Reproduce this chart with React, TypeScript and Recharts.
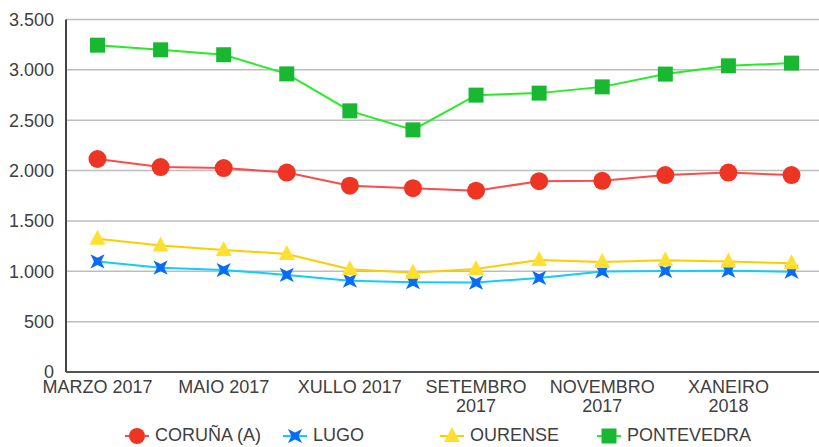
import React from "react";
import { LineChart, Line, XAxis, YAxis, CartesianGrid } from "recharts";

const months = [
  "MARZO 2017", "ABRIL 2017", "MAIO 2017", "XUÑO 2017", "XULLO 2017", "AGOSTO 2017",
  "SETEMBRO 2017", "OUTUBRO 2017", "NOVEMBRO 2017", "DECEMBRO 2017", "XANEIRO 2018", "FEBREIRO 2018",
];
const coruna = [2115, 2035, 2025, 1980, 1850, 1825, 1800, 1895, 1898, 1955, 1980, 1955];
const lugo = [1098, 1036, 1013, 964, 907, 891, 888, 934, 998, 1003, 1006, 996];
const ourense = [1322, 1255, 1212, 1172, 1020, 985, 1023, 1113, 1093, 1110, 1096, 1080];
const pontevedra = [3245, 3199, 3150, 2960, 2593, 2404, 2749, 2769, 2831, 2958, 3040, 3067];
const yTicks = [0, 500, 1000, 1500, 2000, 2500, 3000, 3500];

const data = months.map((m, i) => ({
  month: m,
  coruna: coruna[i],
  lugo: lugo[i],
  ourense: ourense[i],
  pontevedra: pontevedra[i],
}));

const FONT = "'Liberation Sans', Arial, sans-serif";
const TEXT = "#404040";
const RED = "#ee3524";
const RED_LINE = "#ff4a4a";
const BLUE = "#0a6cf5";
const BLUE_LINE = "#11ccff";
const YELLOW = "#ffe030";
const YELLOW_LINE = "#ffcc00";
const GREEN = "#19b832";
const GREEN_LINE = "#22ee22";

const fmt = (v: number) => v.toString().replace(/\B(?=(\d{3})+(?!\d))/g, ".");

const starPath = (cx: number, cy: number, R: number, r: number) => {
  const pts: string[] = [];
  for (let i = 0; i < 8; i++) {
    const a = (Math.PI / 4) * i - Math.PI / 4;
    const rad = i % 2 === 0 ? R : r;
    pts.push(`${cx + rad * Math.cos(a)},${cy + rad * Math.sin(a)}`);
  }
  return "M" + pts.join("L") + "Z";
};

const Square = (props: any) => {
  const { cx, cy, index } = props;
  return <rect key={index} x={cx - 7.5} y={cy - 7.5} width={15} height={15} fill={GREEN} />;
};
const Circle = (props: any) => {
  const { cx, cy, index } = props;
  return <circle key={index} cx={cx} cy={cy} r={9} fill={RED} />;
};
const Triangle = (props: any) => {
  const { cx, cy, index } = props;
  return (
    <path
      key={index}
      d={`M${cx},${cy - 9}L${cx + 8},${cy + 6}L${cx - 8},${cy + 6}Z`}
      fill={YELLOW}
    />
  );
};
const Star = (props: any) => {
  const { cx, cy, index } = props;
  return <path key={index} d={starPath(cx, cy, 10, 3.6)} fill={BLUE} />;
};

const XTick = (props: any) => {
  const { x, y, payload } = props;
  const s: string = payload.value;
  const lines = s.length > 10 ? s.split(" ") : [s];
  return (
    <g>
      {lines.map((l, i) => (
        <text
          key={i}
          x={x}
          y={y + 13 + i * 18.5}
          textAnchor="middle"
          fontSize={18}
          fontFamily={FONT}
          fill={TEXT}
        >
          {l}
        </text>
      ))}
    </g>
  );
};

const legendItems = [
  { label: "CORUÑA (A)", x: 137, line: RED_LINE, kind: "circle" },
  { label: "LUGO", x: 295, line: BLUE_LINE, kind: "star" },
  { label: "OURENSE", x: 452, line: YELLOW_LINE, kind: "triangle" },
  { label: "PONTEVEDRA", x: 609, line: GREEN_LINE, kind: "square" },
];

const LegendIcon = ({ kind }: { kind: string }) => {
  const c = 12;
  const cy = 12;
  let m: React.ReactNode = null;
  if (kind === "circle") m = <circle cx={c} cy={cy} r={8} fill={RED} />;
  if (kind === "star") m = <path d={starPath(c, cy, 10, 3.6)} fill={BLUE} />;
  if (kind === "triangle")
    m = <path d={`M${c},${cy - 9}L${c + 8},${cy + 6}L${c - 8},${cy + 6}Z`} fill={YELLOW} />;
  if (kind === "square") m = <rect x={c - 7.5} y={cy - 7.5} width={15} height={15} fill={GREEN} />;
  return m;
};

export default function App() {
  return (
    <div
      style={{
        position: "fixed",
        left: 0,
        top: 0,
        width: 819,
        height: 447,
        overflow: "hidden",
        background: "#fff",
      }}
    >
      <LineChart
        width={826}
        height={447}
        data={data}
        margin={{ top: 19.5, right: 3, bottom: 30, left: 0 }}
      >
        <CartesianGrid vertical={false} stroke="#bdbdbd" strokeWidth={1.5} />
        <XAxis
          dataKey="month"
          interval={1}
          tickLine={false}
          axisLine={{ stroke: "#555", strokeWidth: 2 }}
          tick={<XTick />}
          height={45}
          padding={{ left: 31.5, right: 31.5 }}
        />
        <YAxis
          domain={[0, 3500]}
          ticks={yTicks}
          width={66}
          tickLine={false}
          axisLine={{ stroke: "#444", strokeWidth: 2 }}
          tickFormatter={fmt}
          tick={{ fontSize: 18, fontFamily: FONT, fill: TEXT }}
          tickMargin={6}
        />
        <Line dataKey="coruna" stroke={RED_LINE} strokeWidth={2} dot={<Circle />} isAnimationActive={false} />
        <Line dataKey="lugo" stroke={BLUE_LINE} strokeWidth={2} dot={<Star />} isAnimationActive={false} />
        <Line dataKey="ourense" stroke={YELLOW_LINE} strokeWidth={2} dot={<Triangle />} isAnimationActive={false} />
        <Line dataKey="pontevedra" stroke={GREEN_LINE} strokeWidth={2} dot={<Square />} isAnimationActive={false} />
      </LineChart>
      {legendItems.map((it) => (
        <div
          key={it.label}
          style={{
            position: "absolute",
            left: it.x - 12,
            top: 423.5,
            height: 24,
            display: "flex",
            alignItems: "center",
            fontFamily: FONT,
            fontSize: 18,
            color: TEXT,
            whiteSpace: "nowrap",
          }}
        >
          <svg width={24} height={24} style={{ display: "block" }}>
            <line x1={0} y1={12} x2={24} y2={12} stroke={it.line} strokeWidth={2} />
            <LegendIcon kind={it.kind} />
          </svg>
          <span style={{ marginLeft: 6 }}>{it.label}</span>
        </div>
      ))}
    </div>
  );
}
